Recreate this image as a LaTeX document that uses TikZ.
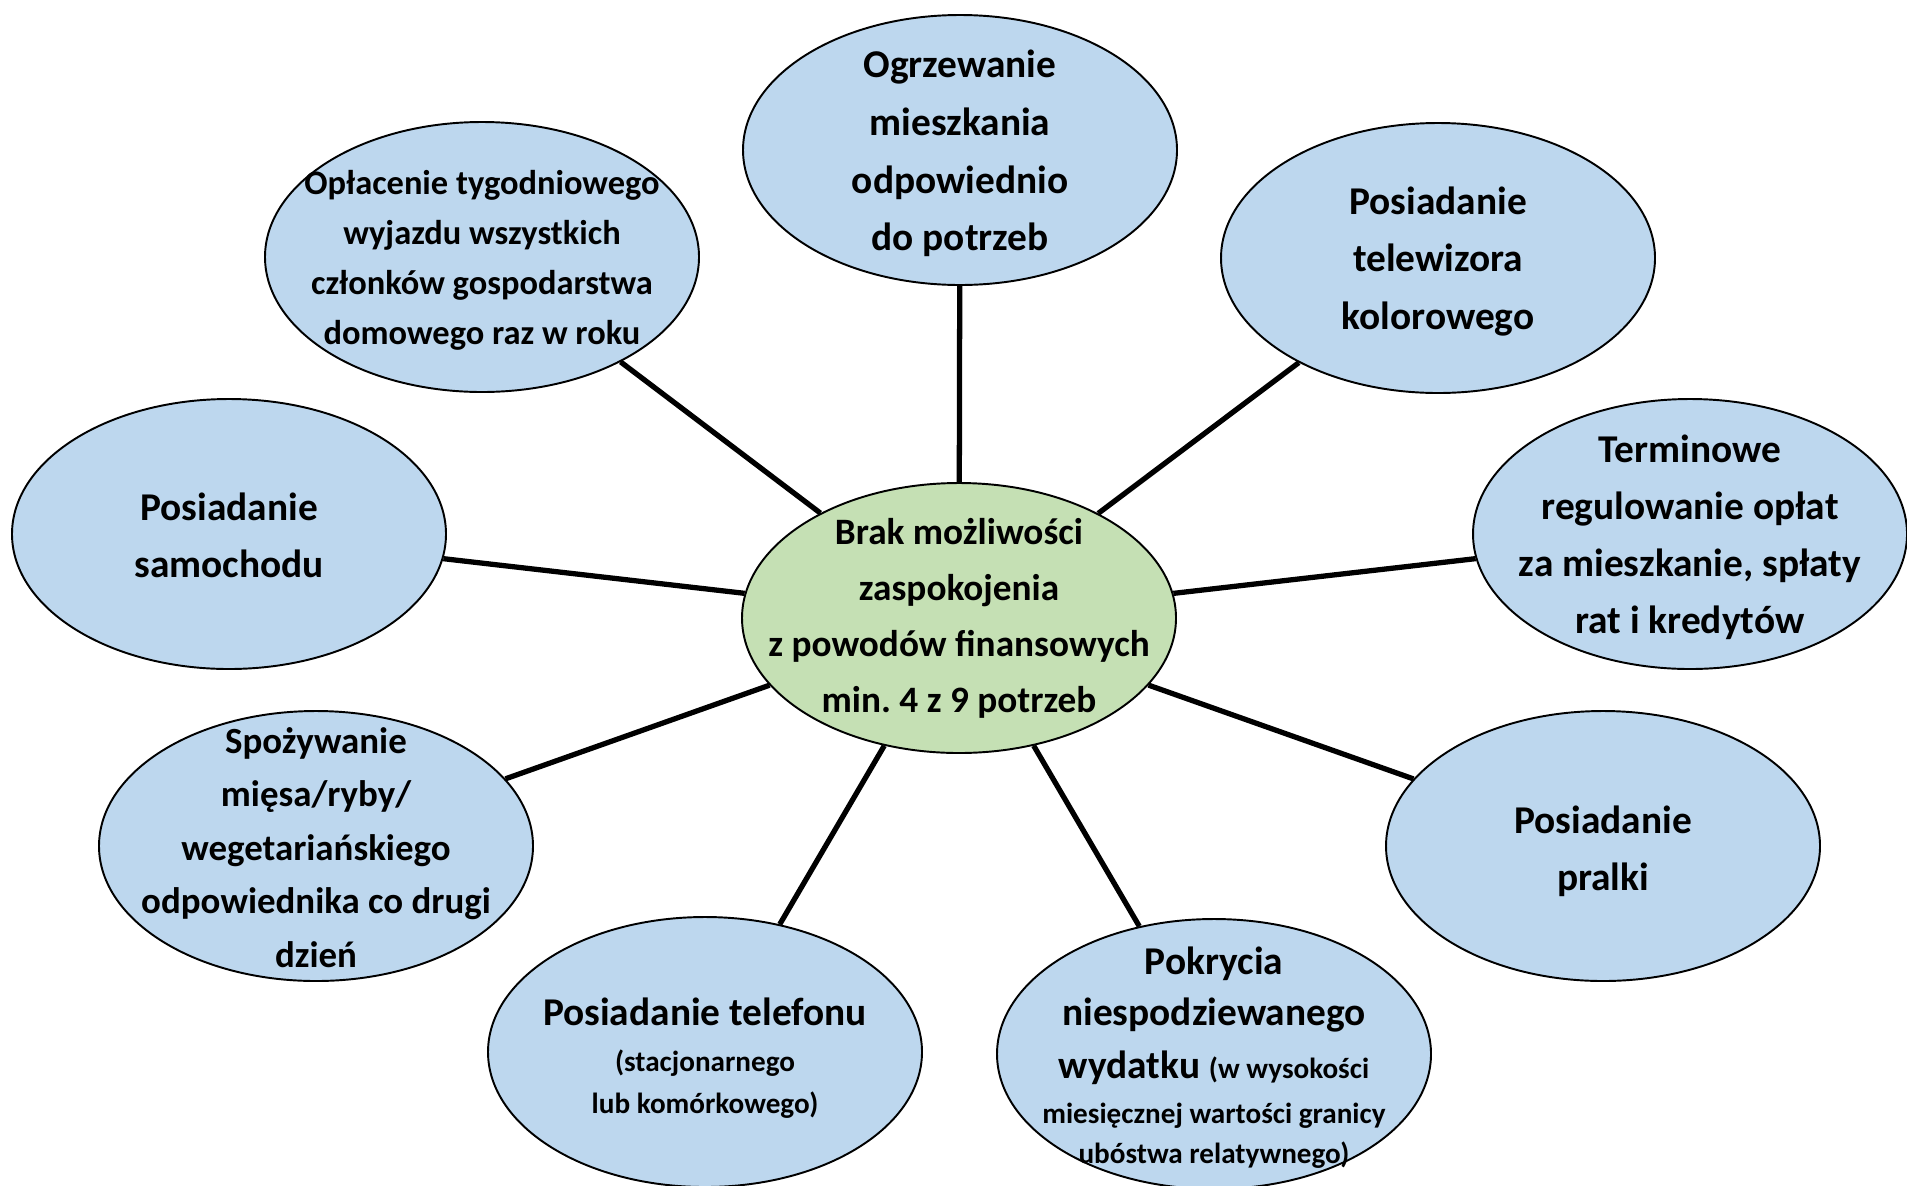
\documentclass[tikz,border=0pt]{standalone}
\usepackage{fontspec}
\setmainfont{Carlito}
\usetikzlibrary{shapes}
\definecolor{needblue}{HTML}{BDD7EE}
\definecolor{hubgreen}{HTML}{C5E0B4}
\newcommand{\smtxt}{\fontsize{8.3}{12.1}\selectfont}
\frenchspacing

\begin{document}
\begin{tikzpicture}
            [x=0.1mm, y=-0.1mm,
            font=\bfseries\fontsize{11.2}{16.4}\selectfont,
            % every node/.style={draw, thick},
            needellipse/.style={ellipse, draw=black, line width=0.55pt, fill=needblue,
                minimum width=43.4mm, minimum height=27mm, inner sep=0pt},
            hubellipse/.style={needellipse, fill=hubgreen},
            lbl/.style={align=center, inner sep=0pt, yshift=-1pt},
            spokeline/.style={draw=black, line width=1.5pt}]
            \useasboundingbox (0,0) rectangle (1907,1185);
            \node [hubellipse, label={[lbl, yshift=1pt, font=\bfseries\fontsize{10.6}{15.9}\selectfont]center:{Brak możliwości\\zaspokojenia\\z powodów finansowych\\min. 4 z 9 potrzeb}}] (hub) at (959,618) {};
            \node [needellipse, label={[lbl]center:{Ogrzewanie\\mieszkania\\odpowiednio\\do potrzeb}}] (heat) at (960,150) {};
            \node [needellipse, label={[lbl, font=\bfseries\fontsize{9.8}{14.2}\selectfont]center:{Opłacenie tygodniowego\\wyjazdu wszystkich\\członków gospodarstwa\\domowego raz w roku}}] (trip) at (482,257) {};
            \node [needellipse, label={[lbl]center:{Posiadanie\\telewizora\\kolorowego}}] (tv) at (1438,258) {};
            \node [needellipse, label={[lbl, yshift=0.6pt]center:{Posiadanie\\samochodu}}] (car) at (229,534) {};
            \node [needellipse, label={[lbl, font=\bfseries\fontsize{11.2}{16.2}\selectfont]center:{Terminowe\\regulowanie opłat\\za mieszkanie, spłaty\\rat i kredytów}}] (bills) at (1690,534) {};
            \node [needellipse, label={[lbl, yshift=0.6pt, font=\bfseries\fontsize{10.5}{15.2}\selectfont]center:{Spożywanie\\mięsa/ryby/\\wegetariańskiego\\odpowiednika co drugi\\dzień}}] (food) at (316,846) {};
            \node [needellipse, label={[lbl, yshift=-0.5pt]center:{Posiadanie\\pralki}}] (wash) at (1603,846) {};
            \node [needellipse, label={[lbl, yshift=-0.8pt]center:{Posiadanie telefonu\\[-3.4pt]{\smtxt(stacjonarnego}\\[-4.2pt]{\smtxt lub komórkowego)}}}] (phone) at (705,1052) {};
            \node [needellipse, label={[lbl, font=\bfseries\fontsize{11.2}{15.2}\selectfont]center:{Pokrycia\\[-0.7pt]niespodziewanego\\wydatku {\smtxt(w wysokości}\\[-2.4pt]{\smtxt miesięcznej wartości granicy}\\[-3.8pt]{\smtxt ubóstwa relatywnego)}}}] (expense) at (1214,1054) {};
            % spokes from the hub
            \foreach \need in {heat, trip, tv, car, bills, food, wash, phone, expense}
                \draw [spokeline] (hub) -- (\need);
            \end{tikzpicture}
\end{document}
